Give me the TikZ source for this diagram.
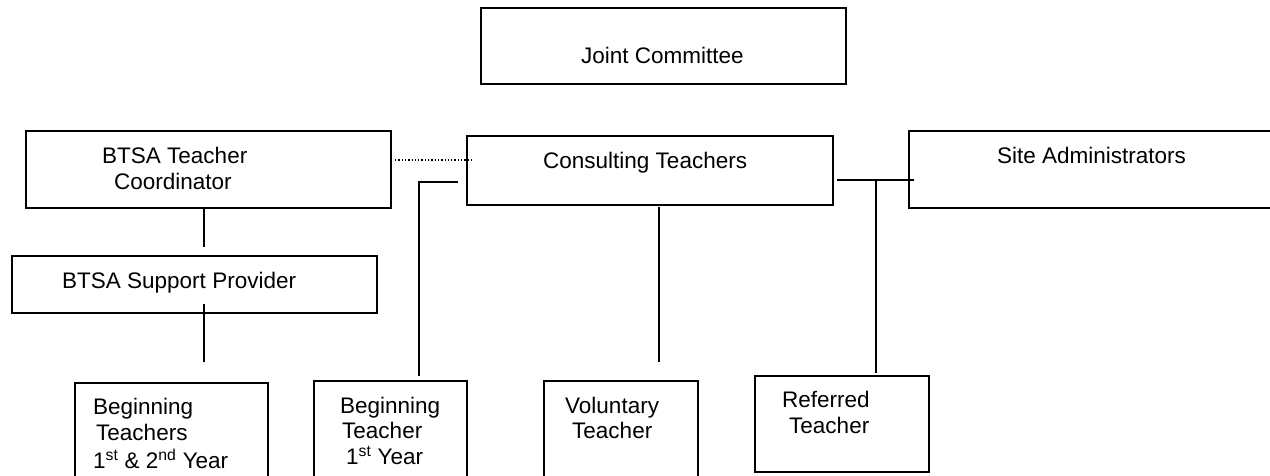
\documentclass[tikz,border=0pt]{standalone}
\usepackage{fontspec}
\setmainfont{Liberation Sans}
\begin{document}
\begin{tikzpicture}[x=1pt,y=-1pt,
  box/.style={draw=black,line width=1.9pt,rectangle,inner sep=0pt},
  conn/.style={draw=black,line width=1.9pt},
  dotconn/.style={draw=black,line width=1.3pt,dash pattern=on 1.3pt off 2pt},
  txt/.style={anchor=base west,inner sep=0pt,font=\fontsize{22.5}{26}\selectfont}]
\useasboundingbox (0,0) rectangle (1270,475);
\clip (0,0) rectangle (1270,475);
% boxes
\node[box,minimum width=365pt,minimum height=76pt] (jc) at (663.5,46) {};
\node[box,minimum width=365pt,minimum height=77pt] (btc) at (208.5,169.5) {};
\node[box,minimum width=365pt,minimum height=57pt] (sp) at (194.5,284.5) {};
\node[box,minimum width=366pt,minimum height=69pt] (ct) at (650,170.5) {};
\node[box,minimum width=381pt,minimum height=77pt] (sa) at (1099.5,169.5) {};
\node[box,minimum width=193pt,minimum height=117pt] (bt12) at (171.5,441.5) {};
\node[box,minimum width=153pt,minimum height=119pt] (bt1) at (390.5,440.5) {};
\node[box,minimum width=154pt,minimum height=119pt] (vt) at (621,440.5) {};
\node[box,minimum width=174pt,minimum height=96pt] (rt) at (842,424) {};
% texts
\node[txt] (jct) at (581,63) {Joint Committee};
\node[txt] (btct1) at (102,163) {BTSA Teacher};
\node[txt] (btct2) at (114,189) {Coordinator};
\node[txt] (spt) at (62,288) {BTSA Support Provider};
\node[txt] (ctt) at (543,168) {Consulting Teachers};
\node[txt] (sat) at (997,163) {Site Administrators};
\node[txt] (bt12a) at (93,414) {Beginning};
\node[txt] (bt12b) at (96,440) {Teachers};
\node[txt] (bt12c) at (93,468) {1\textsuperscript{st} \& 2\textsuperscript{nd} Year};
\node[txt] (bt1a) at (340,413) {Beginning};
\node[txt] (bt1b) at (342,438) {Teacher};
\node[txt] (bt1c) at (346,464) {1\textsuperscript{st} Year};
\node[txt] (vta) at (565,413) {Voluntary};
\node[txt] (vtb) at (572,438) {Teacher};
\node[txt] (rta) at (782,407) {Referred};
\node[txt] (rtb) at (789,433) {Teacher};
% connector ends
\coordinate (c1a) at (204,208);
\coordinate (c1b) at (204,247);
\coordinate (c2a) at (204,304);
\coordinate (c2b) at (204,362);
\coordinate (d1) at (395,160);
\coordinate (d2) at (473,160);
\coordinate (c3a) at (458,182);
\coordinate (c3k) at (419,182);
\coordinate (c3b) at (419,376);
\coordinate (c4a) at (659,207);
\coordinate (c4b) at (659,362);
\coordinate (c5a) at (837,180);
\coordinate (c5b) at (914,180);
\coordinate (c6a) at (876,180);
\coordinate (c6b) at (876,373);
% connectors
\draw[conn] (c1a) -- (c1b);
\draw[conn] (c2a) -- (c2b);
\draw[dotconn] (d1) -- (d2);
\draw[conn] (c3a) -- (c3k) -- (c3b);
\draw[conn] (c4a) -- (c4b);
\draw[conn] (c5a) -- (c5b);
\draw[conn] (c6a) -- (c6b);
\end{tikzpicture}
\end{document}
